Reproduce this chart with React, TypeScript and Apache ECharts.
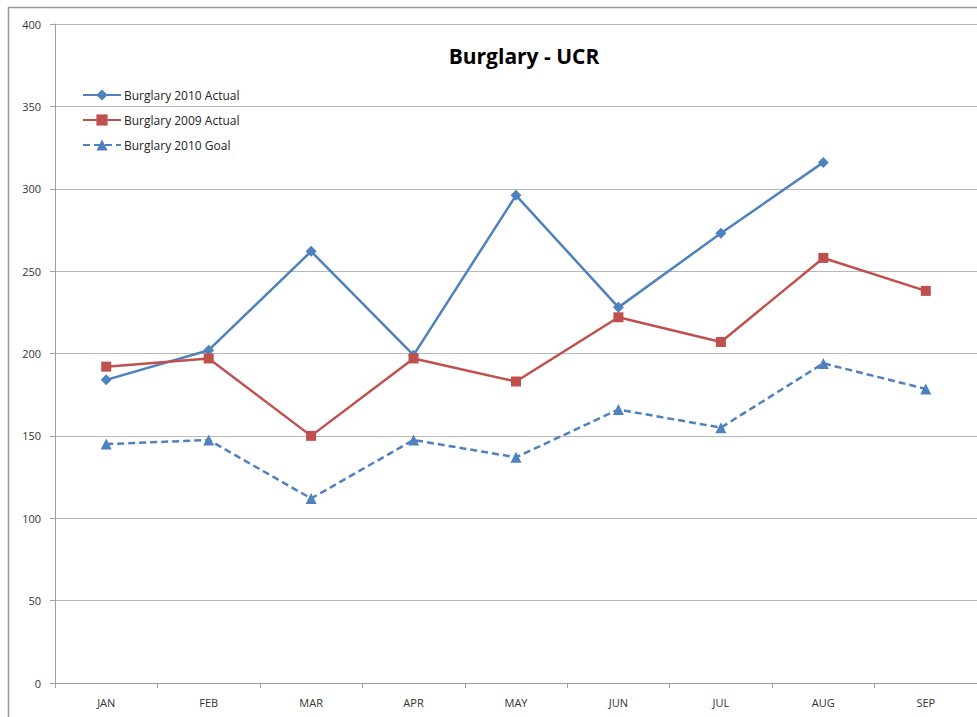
import React, { useEffect, useRef } from "react";
import * as echarts from "echarts";

const months = ["JAN", "FEB", "MAR", "APR", "MAY", "JUN", "JUL", "AUG", "SEP"];
const actual2010: (number | null)[] = [184, 202, 262, 199, 296, 228, 273, 316, null];
const actual2009 = [192, 197, 150, 197, 183, 222, 207, 258, 238];
const goal2010 = [145, 147.5, 112, 147.5, 137, 166, 155, 194, 178.5];

const FONT = "'Open Sans', 'Noto Sans', sans-serif";
const BLUE = "#4F81BD";
const RED = "#C0504D";

export default function App() {
  const ref = useRef<HTMLDivElement>(null);
  useEffect(() => {
    if (!ref.current) return;
    const chart = echarts.init(ref.current, undefined, { renderer: "svg" });
    chart.setOption({
      animation: false,
      backgroundColor: "#fff",
      title: {
        text: "Burglary - UCR",
        left: 519,
        top: 40,
        textAlign: "center",
        textStyle: { fontFamily: FONT, fontWeight: "bold", fontSize: 21, color: "#000" },
      },
      legend: {
        orient: "vertical",
        left: 77,
        top: 84,
        itemWidth: 38,
        itemHeight: 14,
        itemGap: 13,
        textStyle: { fontFamily: FONT, fontSize: 12, color: "#222", padding: [0, 0, 0, -2] },
        data: ["Burglary 2010 Actual", "Burglary 2009 Actual", "Burglary 2010 Goal"],
      },
      graphic: [
        {
          type: "rect",
          shape: { x: 8.5, y: 7.5, width: 1200, height: 1200 },
          style: { fill: "none", stroke: "#9a9a9a", lineWidth: 1.5 },
          silent: true,
        },
      ],
      grid: { left: 55, right: 0, top: 24, bottom: 34, containLabel: false },
      xAxis: {
        type: "category",
        data: months,
        boundaryGap: true,
        axisLine: { lineStyle: { color: "#a0a0a0", width: 1 } },
        axisTick: { show: true, length: 5, lineStyle: { color: "#a0a0a0" } },
        axisLabel: { fontFamily: FONT, fontSize: 11, color: "#333", margin: 14 },
      },
      yAxis: {
        type: "value",
        min: 0,
        max: 400,
        interval: 50,
        axisLine: { show: true, lineStyle: { color: "#a0a0a0", width: 1 } },
        axisTick: { show: true, length: 5, lineStyle: { color: "#a0a0a0" } },
        axisLabel: { fontFamily: FONT, fontSize: 11, color: "#333", margin: 14 },
        splitLine: { show: true, lineStyle: { color: "#b8b8b8", width: 1 } },
      },
      series: [
        {
          name: "Burglary 2010 Actual",
          type: "line",
          data: actual2010,
          symbol: "diamond",
          symbolSize: 11,
          itemStyle: { color: BLUE },
          lineStyle: { color: BLUE, width: 2.5 },
        },
        {
          name: "Burglary 2009 Actual",
          type: "line",
          data: actual2009,
          symbol: "rect",
          symbolSize: 10,
          itemStyle: { color: RED },
          lineStyle: { color: RED, width: 2.5 },
        },
        {
          name: "Burglary 2010 Goal",
          type: "line",
          data: goal2010,
          symbol: "triangle",
          symbolSize: 11,
          itemStyle: { color: BLUE },
          lineStyle: { color: BLUE, width: 2.5, type: [7, 4] },
        },
      ],
    });
    return () => chart.dispose();
  }, []);
  return (
    <div
      ref={ref}
      style={{ position: "absolute", left: 0, top: 0, width: 977, height: 717 }}
    />
  );
}
